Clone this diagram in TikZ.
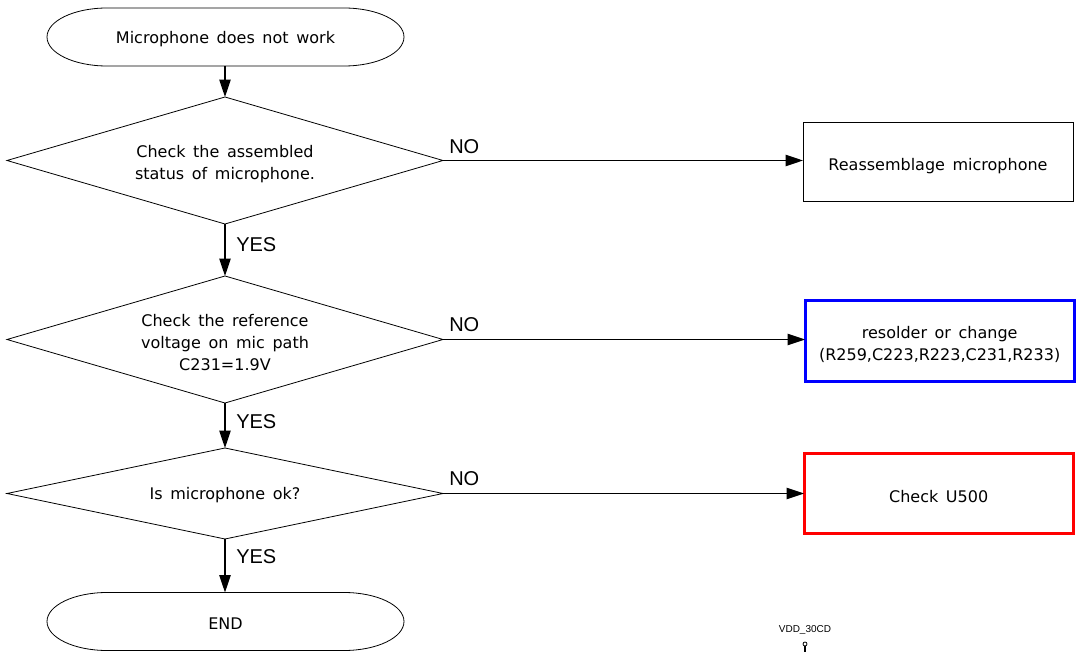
\documentclass[tikz,border=0pt]{standalone}
\usepackage{fontspec}
\setmainfont{DejaVu Sans}[WordSpace=1.5]
\newfontfamily\labfont{Liberation Sans}
\usetikzlibrary{shapes.geometric,arrows.meta}
\begin{document}
\begin{tikzpicture}[x=0.75pt,y=0.75pt,
  txt/.style={font=\fontsize{12pt}{16.5pt}\selectfont, align=center, text=black, inner sep=0pt},
  dia/.style={diamond, draw, line width=0.6pt, inner sep=0pt, outer sep=0pt, aspect=3.43, minimum width=327pt},
  term/.style={rectangle, draw=none, inner sep=0pt, outer sep=0pt, minimum width=267.75pt, minimum height=43.5pt},
  boxb/.style={rectangle, draw, outer sep=0pt, minimum width=202.5pt},
  yn/.style={font=\labfont\fontsize{15pt}{18pt}\selectfont, anchor=west, inner sep=0pt},
  arr/.style={line width=0.9pt, -{Triangle[length=13pt,width=8.5pt]}},
  ovl/.style={line width=0.6pt}
]
\useasboundingbox (0,0) rectangle (1079,-652);
% shapes
\node[term] (s) at (225.5,-37) {};
\node[dia, minimum height=95.25pt] (d1) at (225,-160.5) {};
\node[dia, minimum height=95.25pt] (d2) at (225,-339.5) {};
\node[dia, minimum height=68.25pt, aspect=4.8] (d3) at (225,-493.5) {};
\node[term] (e) at (225.5,-621.5) {};
\node[boxb, line width=0.75pt, minimum height=59.25pt] (b1) at (938,-162.5) {};
\node[boxb, draw=blue, line width=2.25pt, minimum width=202pt, minimum height=61pt] (b2) at (939.7,-341) {};
\node[boxb, draw=red, line width=2.25pt, minimum width=202pt, minimum height=60pt] (b3) at (938.7,-493.3) {};
% texts
\node[txt] (ts) at ([yshift=-1.5pt]s.center) {Microphone does not work};
\node[txt] (t1) at ([yshift=-2.5pt]d1.center) {Check the assembled\\status of microphone.};
\node[txt] (t2) at ([yshift=-2pt]d2.center) {Check the reference\\voltage on mic path\\C231=1.9V};
\node[txt] (t3) at ([yshift=-1.5pt]d3.center) {Is microphone ok?};
\node[txt] (te) at ([yshift=-1.5pt]e.center) {END};
\node[txt] (tb1) at ([yshift=-3pt]b1.center) {Reassemblage microphone};
\node[txt] (tb2) at ([yshift=-2.5pt]b2.center) {resolder or change\\(R259,C223,R223,C231,R233)};
\node[txt] (tb3) at ([yshift=-2.5pt]b3.center) {Check U500};
% terminal outlines
\draw[ovl] ([xshift=45pt]s.north west) -- ([xshift=-45pt]s.north east)
  arc[start angle=90,end angle=-90,x radius=60,y radius=29]
  -- ([xshift=45pt]s.south west)
  arc[start angle=270,end angle=90,x radius=60,y radius=29] -- cycle;
\draw[ovl] ([xshift=45pt]e.north west) -- ([xshift=-45pt]e.north east)
  arc[start angle=90,end angle=-90,x radius=60,y radius=29]
  -- ([xshift=45pt]e.south west)
  arc[start angle=270,end angle=90,x radius=60,y radius=29] -- cycle;
% connectors
\draw[arr] (s.south -| d1.north) -- (d1.north);
\draw[arr] (d1.south) -- (d2.north);
\draw[arr] (d2.south) -- (d3.north);
\draw[arr] (d3.south) -- (e.north -| d3.south);
\draw[arr] (d1.east) -- (d1.east -| b1.west);
\draw[arr] (d2.east) -- (d2.east -| b2.west);
\draw[arr] (d3.east) -- (d3.east -| b3.west);
% labels
\node[yn] (n1) at (449,-147) {NO};
\node[yn] (n2) at (449,-325) {NO};
\node[yn] (n3) at (449,-479) {NO};
\node[yn] (y1) at (236,-245) {YES};
\node[yn] (y2) at (236,-422) {YES};
\node[yn] (y3) at (236,-557) {YES};
% pin
\node[font=\labfont\fontsize{7.5pt}{9pt}\selectfont, inner sep=0pt] (vdd) at (805,-630) {VDD\_30CD};
\node[circle, draw, line width=0.6pt, minimum size=3pt, inner sep=0pt] (pin) at (805,-644) {};
\coordinate (pinend) at (805,-652);
\draw[line width=0.8pt] (pin.south) -- (pinend);
\end{tikzpicture}
\end{document}
